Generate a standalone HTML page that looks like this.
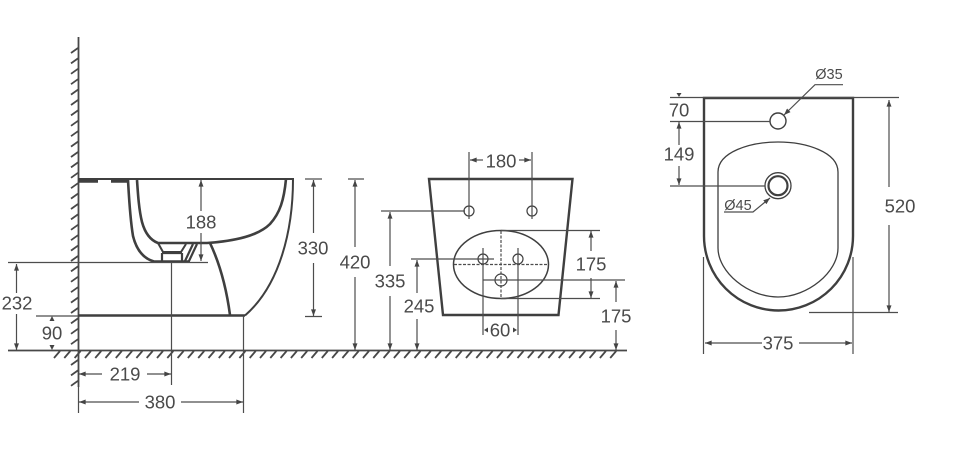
<!DOCTYPE html>
<html><head><meta charset="utf-8"><style>
html,body{margin:0;padding:0;background:#fff;width:960px;height:454px;overflow:hidden}
svg{display:block}
text{font-family:"Liberation Sans",sans-serif;fill:#4a4a4a;text-anchor:middle;dominant-baseline:central}
.t{font-size:18.500px}
.s{font-size:14.500px}
.d{stroke:#4d4d4d;stroke-width:1.200;fill:none}
.o{stroke:#3f3f3f;fill:none}
.a{fill:#444;stroke:none}
.h{stroke:#484848;stroke-width:1.800;fill:none}
</style></head><body>
<svg width="960" height="454" viewBox="0 0 960 454" xmlns="http://www.w3.org/2000/svg">
<defs>
<marker id="ar" viewBox="0 0 8 6" refX="8" refY="3" markerWidth="7" markerHeight="5" orient="auto-start-reverse" markerUnits="userSpaceOnUse"><path d="M0 0L8 3L0 6Z" fill="#444"/></marker>
</defs>
<!-- wall and floor -->
<path class="h" d="M78.500 37V387M8 350.500H627"/>
<path class="h" d="M78 48l-7 5M78 58.400l-7 5M78 68.800l-7 5M78 79.200l-7 5M78 89.600l-7 5M78 100l-7 5M78 110.400l-7 5M78 120.800l-7 5M78 131.200l-7 5M78 141.600l-7 5M78 152l-7 5M78 162.400l-7 5M78 172.800l-7 5M78 183.200l-7 5M78 193.600l-7 5M78 204l-7 5M78 214.400l-7 5M78 224.800l-7 5M78 235.200l-7 5M78 245.600l-7 5M78 256l-7 5M78 266.400l-7 5M78 276.800l-7 5M78 287.200l-7 5M78 297.600l-7 5M78 308l-7 5M78 318.400l-7 5M78 328.800l-7 5M78 339.200l-7 5M78 360l-7 5M78 370.400l-7 5M78 380.800l-7 5"/>
<path class="h" d="M60 351l-6 7M70.300 351l-6 7M80.600 351l-6 7M90.900 351l-6 7M101.200 351l-6 7M111.500 351l-6 7M121.800 351l-6 7M132.100 351l-6 7M142.400 351l-6 7M152.700 351l-6 7M163 351l-6 7M173.300 351l-6 7M183.600 351l-6 7M193.900 351l-6 7M204.200 351l-6 7M214.500 351l-6 7M224.800 351l-6 7M235.100 351l-6 7M245.400 351l-6 7M255.700 351l-6 7M266 351l-6 7M276.300 351l-6 7M286.600 351l-6 7M296.900 351l-6 7M307.200 351l-6 7M317.500 351l-6 7M327.800 351l-6 7M338.100 351l-6 7M348.400 351l-6 7M358.700 351l-6 7M369 351l-6 7M379.300 351l-6 7M389.600 351l-6 7M399.900 351l-6 7M410.200 351l-6 7M420.500 351l-6 7M430.800 351l-6 7M441.100 351l-6 7M451.400 351l-6 7M461.700 351l-6 7M472 351l-6 7M482.300 351l-6 7M492.600 351l-6 7M502.900 351l-6 7M513.200 351l-6 7M523.500 351l-6 7M533.800 351l-6 7M544.100 351l-6 7M554.400 351l-6 7M564.700 351l-6 7M575 351l-6 7M585.300 351l-6 7M595.600 351l-6 7M605.900 351l-6 7M616.200 351l-6 7"/>
<!-- side view -->
<path class="o" stroke-width="2" d="M78 179H293C293 230 280 285 245 315.500"/>
<path class="o" stroke-width="3.500" d="M78 181H98M111 181H128"/>
<path class="o" stroke-width="2.600" d="M78 315.500H245"/>
<path class="o" stroke-width="2.600" d="M137 180C138 195 139 210 142 222C145 233 150 240 158 243H207C235 241 258 236 270 224C280 213 284 200 286 179"/>
<path class="o" stroke-width="2.600" d="M128 180C129 198 130 218 133 236C137 252 145 259 154 261.500H190"/>
<path class="o" stroke-width="2.600" d="M210 243C219 262 226 285 230 315"/>
<path class="o" stroke-width="2" d="M158 243L163 252H181L186 244"/>
<path class="o" stroke-width="2.200" d="M162 253V261M182 253V261M162 253H182"/>
<path class="o" stroke-width="2.200" d="M193 244L185 261M197 244L189 261"/>
<!-- side dims -->
<path class="d" d="M8 262.500H208M36 316H78M171.500 262V385M243.500 316V413M78.500 387V413"/>
<path class="d" d="M16.500 293V264" marker-end="url(#ar)"/>
<path class="d" d="M16.500 314V350" marker-end="url(#ar)"/>
<path class="a" d="M52 316l-2.500 5h5zM52 350l-2.500-5h5z"/>
<path class="d" d="M102 374H79" marker-end="url(#ar)"/>
<path class="d" d="M147 374H171" marker-end="url(#ar)"/>
<path class="d" d="M139 402H79" marker-end="url(#ar)"/>
<path class="d" d="M181 402H243" marker-end="url(#ar)"/>
<path class="d" d="M201 211V180" marker-end="url(#ar)"/>
<path class="d" d="M201 233V261" marker-end="url(#ar)"/>
<path class="d" d="M305 179H322M305 316.500H322"/>
<path class="d" d="M313.500 233V180" marker-end="url(#ar)"/>
<path class="d" d="M313.500 263V316" marker-end="url(#ar)"/>
<text class="t" x="17" y="303">232</text>
<text class="t" x="52" y="333">90</text>
<text class="t" x="125" y="374">219</text>
<text class="t" x="160" y="402">380</text>
<text class="t" x="201" y="222">188</text>
<text class="t" x="313" y="248">330</text>
<!-- front view -->
<path class="o" stroke-width="2.400" d="M429 179H572.500L558.500 315H443Z"/>
<ellipse class="o" stroke-width="1.500" cx="501" cy="264.500" rx="47.500" ry="34"/>
<path class="d" stroke-dasharray="3 1.500" d="M501 231V298M454 264.500H548"/>
<g class="o" stroke-width="1.200"><circle cx="469" cy="211" r="5"/><circle cx="532" cy="211" r="5"/><circle cx="483" cy="259" r="5"/><circle cx="518" cy="259" r="5"/><circle cx="501" cy="280" r="6"/></g>
<path class="d" d="M469 152V219M532 152V219M483 248V335M518 248V335"/>
<path class="d" d="M381 211H465M411 259H494M501 230.500H600M501 298.500H600M483 280H625M348 179H364"/>
<path class="d" d="M483 160H470" marker-end="url(#ar)"/>
<path class="d" d="M519 160H531" marker-end="url(#ar)"/>
<path class="d" d="M355 247V180" marker-end="url(#ar)"/>
<path class="d" d="M355 277V350" marker-end="url(#ar)"/>
<path class="d" d="M390 266V212" marker-end="url(#ar)"/>
<path class="d" d="M390 296V350" marker-end="url(#ar)"/>
<path class="d" d="M417 293V260" marker-end="url(#ar)"/>
<path class="d" d="M417 319V350" marker-end="url(#ar)"/>
<path class="d" d="M591 251V231" marker-end="url(#ar)"/>
<path class="d" d="M591 278V298" marker-end="url(#ar)"/>
<path class="d" d="M616 302V281" marker-end="url(#ar)"/>
<path class="d" d="M616 330V350" marker-end="url(#ar)"/>
<path class="a" d="M484 330l4-2.500v5zM517 330l-4-2.500v5z"/>
<text class="t" x="501" y="161">180</text>
<text class="t" x="355" y="262">420</text>
<text class="t" x="390" y="281">335</text>
<text class="t" x="419" y="306">245</text>
<text class="t" x="591" y="264">175</text>
<text class="t" x="616" y="316">175</text>
<text class="t" x="500" y="330">60</text>
<!-- top view -->
<path class="o" stroke-width="2.400" d="M704 98H853V236A74.500 74.500 0 0 1 704 236Z"/>
<path class="o" stroke-width="1.300" d="M718 248V172C718 152 750 142 778 142C806 142 838 152 838 172V248C838 272 808 297 778 297C748 297 718 272 718 248Z"/>
<circle class="o" stroke-width="1.400" cx="778" cy="121" r="8"/>
<circle class="o" stroke-width="1.300" cx="778" cy="185.700" r="13"/>
<circle class="o" stroke-width="2.200" cx="778" cy="185.700" r="9.500"/>
<path class="d" d="M670 97.500H899M670 121.500H770M670 186H765M809 312.500H898M703.500 257V354M853 257V354"/>
<path class="a" d="M679 97l-2.500-4h5z"/>
<path class="d" d="M679 145V122" marker-end="url(#ar)"/>
<path class="d" d="M679 166V185" marker-end="url(#ar)"/>
<path class="d" d="M889 187V100" marker-end="url(#ar)"/>
<path class="d" d="M889 225V312" marker-end="url(#ar)"/>
<path class="d" d="M762 343H705" marker-end="url(#ar)"/>
<path class="d" d="M799 343H852" marker-end="url(#ar)"/>
<path class="d" d="M843 84.700H815L784 115" marker-end="url(#ar)"/>
<path class="d" d="M724 212H753L770 198" marker-end="url(#ar)"/>
<text class="t" x="679" y="110">70</text>
<text class="t" x="679" y="154">149</text>
<text class="t" x="900" y="206">520</text>
<text class="t" x="778" y="343">375</text>
<text class="s" x="829" y="75">Ø35</text>
<text class="s" x="738" y="206">Ø45</text>
</svg>
</body></html>
